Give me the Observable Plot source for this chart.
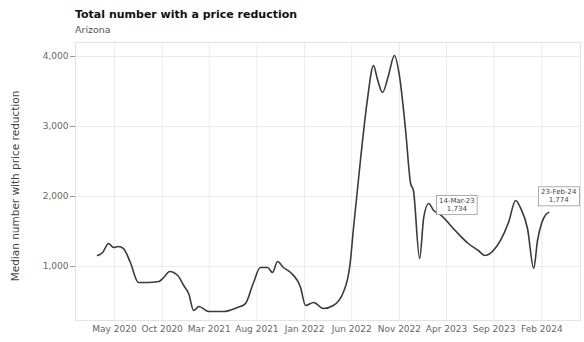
<!DOCTYPE html>
<html>
<head>
<meta charset="utf-8">
<script src="https://cdn.jsdelivr.net/npm/d3@7"></script>
<script src="https://cdn.jsdelivr.net/npm/@observablehq/plot@0.6"></script>
<style>
  html, body { margin: 0; padding: 0; background: #fff; }
  body { width: 584px; height: 342px; overflow: hidden; font-family: "DejaVu Sans", sans-serif; }
  #title { position: absolute; left: 75px; top: 8px; font-size: 11px; font-weight: bold; color: #111; }
  #subtitle { position: absolute; left: 75px; top: 24px; font-size: 9.5px; color: #555; }
  #chart { position: absolute; left: 0; top: 38px; }
</style>
</head>
<body>
<div id="title">Total number with a price reduction</div>
<div id="subtitle">Arizona</div>
<div id="chart"></div>
<script>
const dates = [
  "2020-03-08","2020-03-24","2020-04-12","2020-04-28","2020-05-14","2020-05-30","2020-06-21","2020-07-17",
  "2020-08-15","2020-09-20","2020-10-06","2020-10-25","2020-11-20","2020-12-09","2020-12-25","2021-01-10",
  "2021-01-27","2021-02-28","2021-04-16","2021-05-30","2021-06-25","2021-07-20","2021-08-12","2021-09-04",
  "2021-09-20","2021-10-06","2021-10-25","2021-11-17","2021-12-19","2022-01-04","2022-01-30","2022-03-02",
  "2022-04-03","2022-05-05","2022-05-27","2022-06-06","2022-06-29","2022-07-21","2022-08-10","2022-08-22",
  "2022-09-08","2022-09-27","2022-10-16","2022-11-01","2022-11-21","2022-12-07","2022-12-16","2023-01-05",
  "2023-01-18","2023-02-03","2023-02-19","2023-03-14","2023-04-29","2023-06-10","2023-07-12","2023-08-03",
  "2023-08-26","2023-09-21","2023-10-17","2023-11-09","2023-11-24","2023-12-17","2024-01-06","2024-01-18",
  "2024-02-01","2024-02-14","2024-02-23"
];
const values = [
  1157,1200,1329,1271,1286,1257,1057,771,
  771,786,843,929,871,729,614,371,
  429,357,357,414,471,757,986,986,
  914,1071,986,914,700,443,486,400,
  443,629,1043,1514,2514,3371,3871,3686,
  3486,3729,4014,3729,2943,2186,2086,1114,
  1700,1900,1800,1734,1514,1329,1229,1157,
  1214,1371,1629,1943,1843,1543,971,1371,
  1629,1743,1774
];
const tickDates = ["2020-05-01","2020-10-01","2021-03-01","2021-08-01","2022-01-01","2022-06-01","2022-11-01","2023-04-01","2023-09-01","2024-02-01"];
const yTicks = [1000, 2000, 3000, 4000];
const annoDates = ["2023-03-14", "2024-02-23"];
const annoLabels = ["14-Mar-23\n1,734", "23-Feb-24\n1,774"];
const annoValues = [1734, 1774];

const parse = d3.utcParse("%Y-%m-%d");
const data = dates.map((d, i) => ({date: parse(d), value: values[i]}));
const anno = annoDates.map((d, i) => ({date: parse(d), value: annoValues[i], label: annoLabels[i]}));

const plot = Plot.plot({
  width: 584,
  height: 304,
  marginTop: 4,
  marginBottom: 22,
  marginLeft: 75,
  marginRight: 4,
  style: {fontFamily: "DejaVu Sans, sans-serif", fontSize: "9px", color: "#666", background: "#fff"},
  x: {type: "utc", domain: [parse("2019-12-28"), parse("2024-06-04")], label: null},
  y: {domain: [229, 4200], label: null},
  marks: [
    Plot.gridX(tickDates.map(parse), {stroke: "#e6e6e6", strokeOpacity: 1, strokeWidth: 0.8}),
    Plot.gridY(yTicks, {stroke: "#e6e6e6", strokeOpacity: 1, strokeWidth: 0.8}),
    Plot.frame({stroke: "#e3e3e3"}),
    Plot.axisX(tickDates.map(parse), {tickSize: 0, tickPadding: 5, tickFormat: d3.utcFormat("%b %Y"), fill: "#666", label: null}),
    Plot.axisY(yTicks, {tickSize: 5, tickPadding: 2, tickFormat: d3.format(","), stroke: "#999", fill: "#666", label: null}),
    Plot.line(data, {x: "date", y: "value", stroke: "#3a3a3a", strokeWidth: 1.6, curve: "monotone-x"}),
    Plot.text([anno[0]], {x: "date", y: "value", text: "label", fontSize: 7, fill: "#444", lineAnchor: "bottom", textAnchor: "middle", dx: 16, dy: -4, lineHeight: 1.15}),
    Plot.text([anno[1]], {x: "date", y: "value", text: "label", fontSize: 7, fill: "#444", lineAnchor: "bottom", textAnchor: "middle", dx: 10, dy: -10, lineHeight: 1.15})
  ]
});
document.getElementById("chart").appendChild(plot);

// boxes behind annotation labels
plot.querySelectorAll('g[aria-label="text"] text').forEach(t => {
  const b = t.getBBox();
  const r = document.createElementNS("http://www.w3.org/2000/svg", "rect");
  r.setAttribute("x", b.x - 2.5);
  r.setAttribute("y", b.y - 1.5);
  r.setAttribute("width", b.width + 5);
  r.setAttribute("height", b.height + 3);
  r.setAttribute("fill", "#fff");
  r.setAttribute("stroke", "#999");
  r.setAttribute("stroke-width", "0.8");
  if (t.getAttribute("transform")) r.setAttribute("transform", t.getAttribute("transform"));
  t.parentNode.insertBefore(r, t);
});

// y-axis title
const yl = document.createElementNS("http://www.w3.org/2000/svg", "text");
yl.setAttribute("transform", "translate(19,148) rotate(-90)");
yl.setAttribute("text-anchor", "middle");
yl.setAttribute("font-size", "10.5");
yl.setAttribute("fill", "#444");
yl.textContent = "Median number with price reduction";
plot.appendChild(yl);
</script>
</body>
</html>
